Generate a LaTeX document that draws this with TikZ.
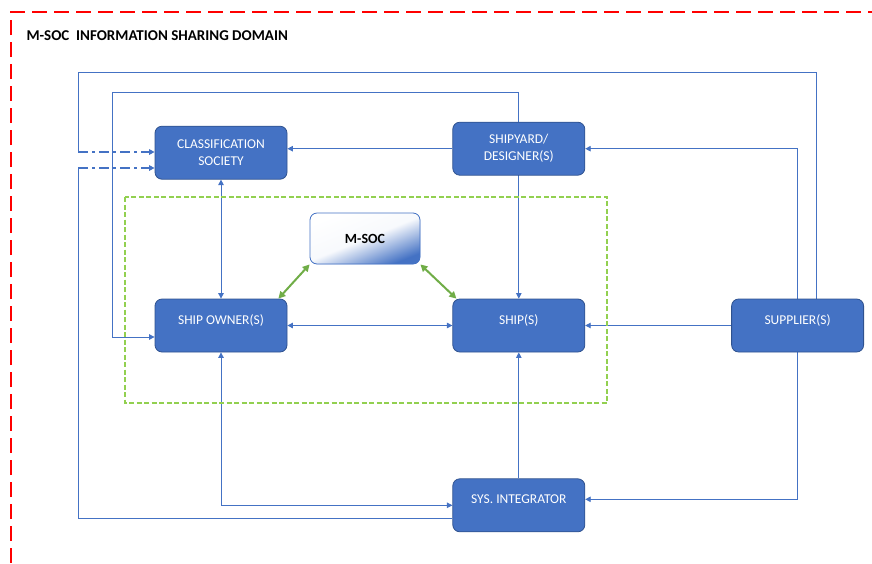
\documentclass[tikz,border=0pt]{standalone}
\usepackage{fontspec}
\setmainfont{Carlito}
\usetikzlibrary{positioning, arrows.meta, backgrounds}
\definecolor{OfficeBlue}{HTML}{4472C4}
\definecolor{EdgeBlue}{HTML}{2F528F}
\definecolor{DomainRed}{HTML}{FF0000}
\definecolor{ZoneGreen}{HTML}{92D050}
\definecolor{LinkGreen}{HTML}{70AD47}

\begin{document}
\begin{tikzpicture}[x=1pt,y=-1pt,>={Triangle[length=5.5pt,width=5.5pt]},
    entity/.style={draw=EdgeBlue, fill=OfficeBlue, rounded corners=7pt, line width=0.8pt,
      minimum width=132pt, minimum height=53pt, text=white, align=center,
      font=\fontsize{13.5}{17}\selectfont},
    raised/.style={text depth=12pt},
    link/.style={draw=OfficeBlue, line width=0.9pt},
    dashlink/.style={draw=OfficeBlue, line width=1.4pt, dash pattern=on 10pt off 4pt on 3pt off 4pt},
    msoclink/.style={draw=LinkGreen, line width=2pt, {Triangle[length=7pt,width=7pt]}-{Triangle[length=7pt,width=7pt]}}]
                \useasboundingbox (0,0) rectangle (872,563);
                % Domain
                \draw[DomainRed, line width=2.5pt, dash pattern=on 15pt off 7pt] (11,563) -- (11,12) -- (872,12);
                \node[anchor=west, font=\fontsize{15}{17}\selectfont\bfseries] (Title) at (23,36) {M-SOC\ \ INFORMATION SHARING DOMAIN};
                \draw[ZoneGreen, line width=1.6pt, dash pattern=on 5pt off 2.5pt] (125,197) rectangle (607,403);

                % Nodes
                \node[entity, raised] (ShipOwner) at (221,325.5) {SHIP OWNER(S)};
                \node[entity, raised, right=165pt of ShipOwner] (Ship) {SHIP(S)};
                \node[entity, raised, right=146pt of Ship] (Supplier) {SUPPLIER(S)};
                \node[entity, above=119pt of ShipOwner] (ClassSociety) {CLASSIFICATION\\SOCIETY};
                \node[entity, above=123pt of Ship] (Shipyard) {SHIPYARD/\\DESIGNER(S)};
                \node[entity, raised, below=126pt of Ship] (SysIntegrator) {SYS. INTEGRATOR};
                \node[entity, draw=OfficeBlue, minimum width=110pt, minimum height=51pt, text=black,
                  font=\fontsize{14}{17}\selectfont\bfseries,
                  top color=white, bottom color=OfficeBlue, middle color=white!96!OfficeBlue,
                  shading angle=22] (MSoc) at (365,238.5) {M-SOC};

                % Arrows
                \begin{pgfonlayer}{background}
                \coordinate (TopLeft) at (78,72);
                \coordinate (DashA) at (78,152);
                \coordinate (DashB) at (78,168);
                \coordinate (OwnerLoop) at (112,92);
                \draw[link] ([xshift=19pt]Supplier.north) |- (TopLeft) -- (DashA);
                \draw[dashlink, ->] (DashA) -- (DashA -| ClassSociety.west);
                \draw[link] ([yshift=-13pt]SysIntegrator.west) -| (DashB);
                \draw[dashlink, ->] (DashB) -- (DashB -| ClassSociety.west);

                \draw[link, <->] ([yshift=-11.5pt]ShipOwner.west) -| (OwnerLoop) -| (Ship.north);
                \draw[link, ->] (Shipyard.west) -- (Shipyard.west -| ClassSociety.east);
                \draw[link, ->] (Supplier.north) |- (Shipyard.east);
                \draw[link, <->] (ClassSociety.south) -- (ShipOwner.north);
                \draw[link, <->] (ShipOwner.east) -- (Ship.west);
                \draw[link, ->] (Supplier.west) -- (Ship.east);
                \draw[link, ->] (Supplier.south) |- ([yshift=6pt]SysIntegrator.east);
                \draw[link, <->] (ShipOwner.south) |- (SysIntegrator.west);
                \draw[link, ->] (SysIntegrator.north) -- (Ship.south);
                \end{pgfonlayer}

                \draw[msoclink] (MSoc.south west) -- ([xshift=-9pt]ShipOwner.north east);
                \draw[msoclink] (MSoc.south east) -- ([xshift=4pt]Ship.north west);
              \end{tikzpicture}
\end{document}
